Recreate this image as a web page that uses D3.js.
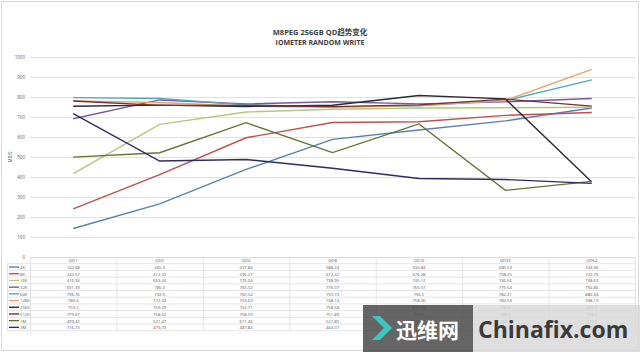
<!DOCTYPE html>
<html><head><meta charset="utf-8">
<script src="https://cdn.jsdelivr.net/npm/d3@7"></script>
<style>body{margin:0;background:#fff}svg{display:block;font-family:"Open Sans","Noto Sans CJK SC",sans-serif}</style>
</head><body><svg id="c" width="640" height="352"></svg>
<script>
const categories = ["QD1","QD2","QD4","QD8","QD16","QD32","QD64"];
const seriesNames = ["4K","8K","16K","32K","64K","128K","256K","512K","1M","2M"];
const s4K   = [142.68, 265.3, 437.84, 588.24, 634.84, 680.53, 744.96];
const s8K   = [240.57, 412.32, 596.27, 672.32, 676.28, 708.25, 722.76];
const s16K  = [416.34, 663.44, 725.04, 738.95, 745.12, 746.56, 748.63];
const s32K  = [691.39, 785.3, 765.02, 776.07, 765.57, 775.54, 792.86];
const s64K  = [796.76, 792.5, 760.54, 750.72, 756.5, 782.21, 885.34];
const s128K = [780.4, 772.34, 753.63, 748.14, 758.06, 782.53, 938.19];
const s256K = [753.5, 759.29, 752.71, 758.58, 807.33, 790.6, 375.3];
const s512K = [779.67, 758.02, 758.09, 751.89, 760.5, 789.4, 754.2];
const s1M   = [499.42, 521.47, 671.46, 521.85, 665.3, 333.2, 378.1];
const s2M   = [716.73, 479.73, 487.84, 444.07, 392.6, 387.5, 368.2];
const yTicks = [0,100,200,300,400,500,600,700,800,900,1000];
const colors = ["#5a7fb8","#c0504d","#b3c77a","#7a5a9c","#4fa9c4","#e8a466","#2a2a38","#7a2e2e","#5f7530","#2e2c62"];
const allSeries = [s4K,s8K,s16K,s32K,s64K,s128K,s256K,s512K,s1M,s2M];

const svg = d3.select("#c");
svg.append("rect").attr("x",1.5).attr("y",1.5).attr("width",637).attr("height",349).attr("fill","#fff").attr("stroke","#d9d9d9");

svg.append("text").attr("x",320).attr("y",35).attr("text-anchor","middle").attr("font-size",7.5).attr("fill","#404040").attr("font-weight","bold").text("M8PEG 256GB QD趋势变化");
svg.append("text").attr("x",320).attr("y",45).attr("text-anchor","middle").attr("font-size",7).attr("fill","#404040").attr("font-weight","bold").text("IOMETER RANDOM WRITE");

const x = d3.scaleBand().domain(categories).range([30,635]);
const y = d3.scaleLinear().domain([0,1000]).range([257,57]);

svg.append("g").selectAll("line").data(yTicks).join("line")
  .attr("x1",30).attr("x2",635).attr("y1",d=>y(d)+0.5).attr("y2",d=>y(d)+0.5)
  .attr("stroke","#d9d9d9").attr("stroke-width",0.8);
const yAxis = d3.axisLeft(y).tickValues(yTicks).tickFormat(d3.format("d")).tickSize(0).tickPadding(5);
const ga = svg.append("g").attr("transform","translate(30,0)").call(yAxis);
ga.select(".domain").remove();
ga.selectAll("text").attr("font-size",4.5).attr("fill","#595959").attr("font-family","Open Sans");

svg.append("text").attr("transform","translate(12,157) rotate(-90)").attr("text-anchor","middle").attr("font-size",4.5).attr("fill","#595959").text("MB/S");

const line = d3.line().x((d,i)=>x(categories[i])+x.bandwidth()/2).y(d=>y(d));
allSeries.forEach((s,k)=>{
  svg.append("path").attr("d",line(s)).attr("fill","none").attr("stroke",colors[k]).attr("stroke-width",1.4);
});

const tTop = 257, rowH = 6.7;
const tg = svg.append("g");
const colEdges = [30].concat(categories.map(c=>x(c)+x.bandwidth()));
colEdges.forEach(e=>tg.append("line").attr("x1",e+0.5).attr("x2",e+0.5).attr("y1",tTop).attr("y2",tTop+rowH*11).attr("stroke","#d9d9d9").attr("stroke-width",0.7));
tg.append("line").attr("x1",30).attr("x2",635).attr("y1",tTop+0.5).attr("y2",tTop+0.5).attr("stroke","#d9d9d9").attr("stroke-width",0.7);
for(let r=1;r<=11;r++){
  tg.append("line").attr("x1",7).attr("x2",635).attr("y1",tTop+r*rowH).attr("y2",tTop+r*rowH).attr("stroke","#d9d9d9").attr("stroke-width",0.7);
}
tg.append("line").attr("x1",7.5).attr("x2",7.5).attr("y1",tTop+rowH).attr("y2",tTop+rowH*11).attr("stroke","#d9d9d9").attr("stroke-width",0.7);
categories.forEach(c=>tg.append("text").attr("x",x(c)+x.bandwidth()/2).attr("y",tTop+rowH-1.5).attr("text-anchor","middle").attr("font-size",4.2).attr("fill","#595959").text(c));
seriesNames.forEach((n,k)=>{
  const yy = tTop+rowH*(k+1);
  tg.append("line").attr("x1",9).attr("x2",19).attr("y1",yy+rowH/2).attr("y2",yy+rowH/2).attr("stroke",colors[k]).attr("stroke-width",1.4);
  tg.append("text").attr("x",20).attr("y",yy+rowH-1.5).attr("font-size",4.2).attr("fill","#595959").text(n);
  allSeries[k].forEach((v,i)=>tg.append("text").attr("x",x(categories[i])+x.bandwidth()/2).attr("y",yy+rowH-1.5).attr("text-anchor","middle").attr("font-size",4.2).attr("fill","#595959").text(v));
});

const wm = svg.append("g");
wm.append("rect").attr("x",363).attr("y",305).attr("width",110).attr("height",47).attr("fill","#4a4a4a").attr("opacity",0.85);
wm.append("path").attr("d","M372,316 L384,328 L372,340 L380,340 L392,328 L380,316 Z").attr("fill","#3cc6c0");
wm.append("text").attr("x",396).attr("y",338).attr("font-size",21).attr("font-weight","bold").attr("fill","#fff").attr("font-family","Noto Sans CJK SC").text("迅维网");
wm.append("rect").attr("x",473).attr("y",305).attr("width",167).attr("height",47).attr("fill","#d8d8d8").attr("opacity",0.85);
wm.append("text").attr("x",478).attr("y",338).attr("font-size",23).attr("font-weight","bold").attr("fill","#3a3a3a").attr("font-family","Open Sans").text("Chinafix.com");
</script></body></html>
